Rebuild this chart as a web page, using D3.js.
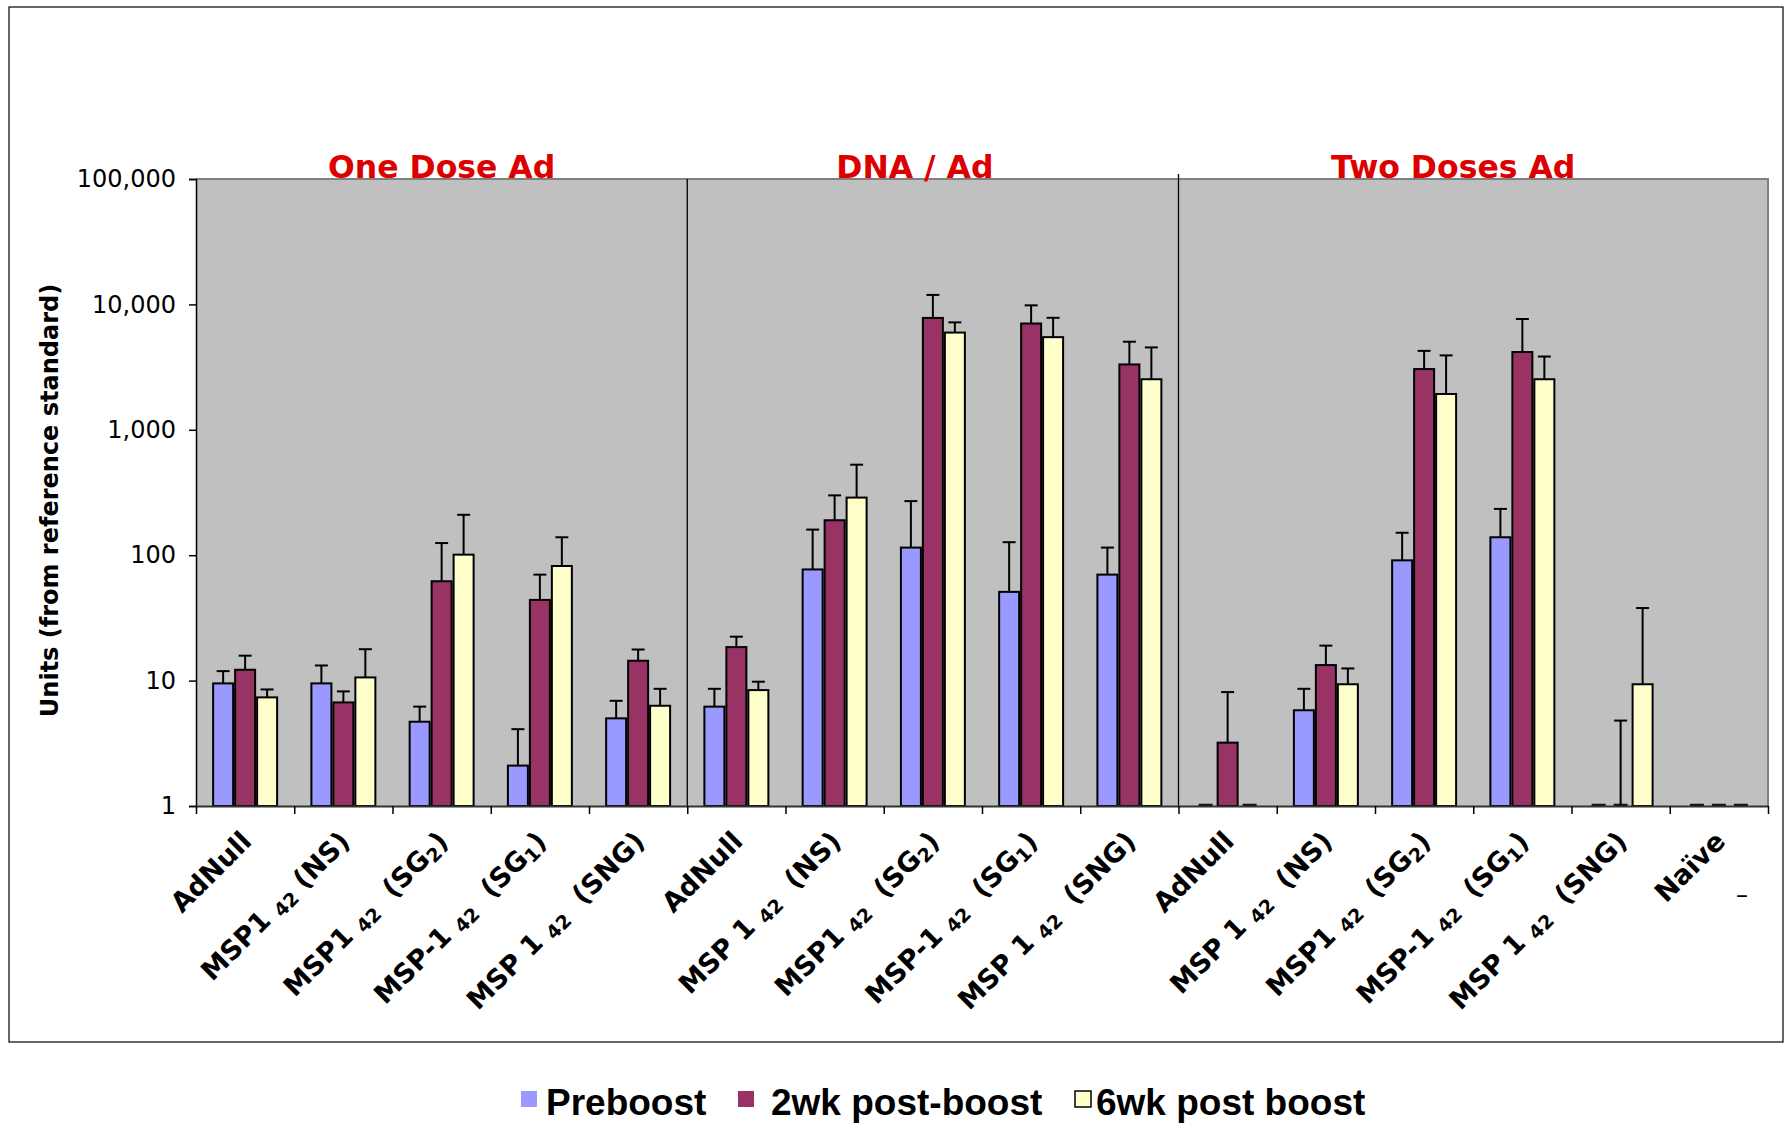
<!DOCTYPE html>
<html>
<head>
<meta charset="utf-8">
<script src="https://cdn.jsdelivr.net/npm/d3@7"></script>
<style>
  body { margin: 0; background: #fff; }
  svg { display: block; }
  text { white-space: pre; }
</style>
</head>
<body>
<svg id="chart"></svg>
<script>
// categories (underscore marks subscript digits)
const groupNames = ["One Dose Ad", "DNA / Ad", "Two Doses Ad"];
const groupSizes = [5, 5, 6];
const categories = [
  "AdNull", "MSP1 _42 (NS)", "MSP1 _42  (SG_2)", "MSP-1 _42  (SG_1)", "MSP 1 _42  (SNG)",
  "AdNull", "MSP 1 _42  (NS)", "MSP1 _42  (SG_2)", "MSP-1 _42  (SG_1)", "MSP 1 _42  (SNG)",
  "AdNull", "MSP 1 _42  (NS)", "MSP1 _42  (SG_2)", "MSP-1 _42  (SG_1)", "MSP 1 _42  (SNG)", "Naïve"
];
const seriesNames = ["Preboost", "2wk post-boost", "6wk post boost"];
const seriesColors = ["#9999ff", "#993366", "#ffffcc"];

// bar values (null = nothing detected, drawn as a dash on the axis)
const preboost = [9.5, 9.5, 4.7, 2.1, 5.0,   6.2, 77, 115, 51, 70,   null, 5.8, 91, 139, null, null];
const wk2      = [12.2, 6.7, 62, 44, 14.4,   18.5, 190, 7800, 7040, 3320,   3.2, 13.3, 3050, 4170, null, null];
const wk6      = [7.35, 10.6, 101, 82, 6.3,  8.4, 288, 5960, 5480, 2530,   null, 9.35, 1930, 2530, 9.35, null];
// upper ends of the error bars
const preboostErr = [11.9, 13.2, 6.2, 4.1, 6.9,   8.6, 160, 270, 127, 115,   null, 8.6, 151, 234, null, null];
const wk2Err      = [15.8, 8.2, 125, 70, 17.7,    22.4, 300, 11900, 9830, 5040,   8.1, 19, 4260, 7650, 4.8, null];
const wk6Err      = [8.5, 17.8, 210, 139, 8.6,    9.8, 527, 7190, 7820, 4540,   null, 12.5, 3920, 3840, 37.9, null];
const yTicks = [1, 10, 100, 1000, 10000, 100000];

const W = 1785, H = 1123;
const plot = { left: 196, right: 1768, top: 179, bottom: 806 };

const svg = d3.select("#chart").attr("width", W).attr("height", H);

// outer chart border
svg.append("rect")
  .attr("x", 9).attr("y", 7)
  .attr("width", 1774).attr("height", 1035)
  .attr("fill", "#fff").attr("stroke", "#000").attr("stroke-width", 1.2);

const x0 = d3.scaleBand()
  .domain(d3.range(categories.length))
  .range([plot.left, plot.right]);

const x1 = d3.scaleBand()
  .domain(d3.range(3))
  .range([0, x0.bandwidth()])
  .paddingInner(0.09)
  .paddingOuter(0.78);

const y = d3.scaleLog()
  .domain([1, 100000])
  .range([plot.bottom, plot.top]);

// plot background
svg.append("rect")
  .attr("x", plot.left).attr("y", plot.top)
  .attr("width", plot.right - plot.left).attr("height", plot.bottom - plot.top)
  .attr("fill", "#c0c0c0");
svg.append("path")
  .attr("d", `M${plot.left},${plot.top}H${plot.right}V${plot.bottom}`)
  .attr("fill", "none").attr("stroke", "#808080").attr("stroke-width", 2);

// group dividers
const groupStarts = groupSizes.map((s, i) => d3.sum(groupSizes.slice(0, i)));
groupStarts.slice(1).forEach(g => {
  svg.append("line")
    .attr("x1", x0(g)).attr("x2", x0(g))
    .attr("y1", plot.top - (g > 5 ? 5 : 0)).attr("y2", plot.bottom)
    .attr("stroke", "#000").attr("stroke-width", 1.3);
});

// bars
const values = [preboost, wk2, wk6];
const errs = [preboostErr, wk2Err, wk6Err];
const barData = [];
categories.forEach((c, ci) => {
  for (let s = 0; s < 3; s++) {
    barData.push({ ci, s, v: values[s][ci], e: errs[s][ci] });
  }
});

const bx = d => x0(d.ci) + x1(d.s);

svg.append("g").selectAll("rect")
  .data(barData.filter(d => d.v != null))
  .join("rect")
  .attr("x", bx)
  .attr("y", d => y(d.v))
  .attr("width", x1.bandwidth())
  .attr("height", d => y(1) - y(d.v))
  .attr("fill", d => seriesColors[d.s])
  .attr("stroke", "#000")
  .attr("stroke-width", 2);

// empty values: short dash on the axis
svg.append("g").selectAll("line")
  .data(barData.filter(d => d.v == null))
  .join("line")
  .attr("x1", d => bx(d) + 3).attr("x2", d => bx(d) + x1.bandwidth() - 3)
  .attr("y1", y(1) - 1).attr("y2", y(1) - 1)
  .attr("stroke", "#111").attr("stroke-width", 2.5);

// error bars
const eg = svg.append("g").attr("stroke", "#000").attr("stroke-width", 2);
barData.filter(d => d.e != null).forEach(d => {
  const cx = bx(d) + x1.bandwidth() / 2;
  eg.append("line")
    .attr("x1", cx).attr("x2", cx)
    .attr("y1", y(d.v == null ? 1 : d.v)).attr("y2", y(d.e));
  eg.append("line")
    .attr("x1", cx - 6.5).attr("x2", cx + 6.5)
    .attr("y1", y(d.e)).attr("y2", y(d.e));
});

// y axis
const yAxis = d3.axisLeft(y)
  .tickValues(yTicks)
  .tickFormat(d3.format(","))
  .tickSize(7)
  .tickPadding(13);
const yg = svg.append("g")
  .attr("transform", `translate(${plot.left},0)`)
  .call(yAxis);
yg.select(".domain").attr("stroke", "#000").attr("stroke-width", 1.5);
yg.selectAll(".tick line").attr("stroke", "#000").attr("stroke-width", 1.5);
yg.selectAll(".tick text")
  .attr("font-family", "DejaVu Sans, Verdana, sans-serif")
  .attr("font-size", 24)
  .attr("fill", "#000");

// x axis (ticks between categories)
const xb = d3.scaleLinear().domain([0, categories.length]).range([plot.left, plot.right]);
const xg = svg.append("g")
  .attr("transform", `translate(0,${plot.bottom})`)
  .call(d3.axisBottom(xb).tickValues(d3.range(categories.length + 1)).tickFormat("").tickSize(8).tickSizeOuter(0));
xg.select(".domain").attr("stroke", "#333").attr("stroke-width", 2);
xg.selectAll(".tick line").attr("stroke", "#000").attr("stroke-width", 1.5);

// category labels
const labels = svg.append("g")
  .attr("font-family", "DejaVu Sans, Verdana, sans-serif")
  .attr("font-weight", "bold")
  .attr("font-size", 27)
  .attr("fill", "#000");
categories.forEach((c, ci) => {
  const cx = x0(ci) + x0.bandwidth() / 2 + 8;
  const t = labels.append("text")
    .attr("text-anchor", "end")
    .attr("transform", `translate(${cx},843) rotate(-45)`);
  const parts = c.split(/(_\d+)/).filter(p => p.length);
  let shifted = false;
  parts.forEach(p => {
    if (p.startsWith("_")) {
      t.append("tspan").attr("font-size", 19).attr("dy", 4).text(p.slice(1));
      shifted = true;
    } else {
      t.append("tspan").attr("dy", shifted ? -4 : 0).text(p);
      shifted = false;
    }
  });
});
// stray dash under the last label
svg.append("text")
  .attr("x", 1742).attr("y", 903)
  .attr("text-anchor", "middle")
  .attr("font-family", "DejaVu Sans, sans-serif")
  .attr("font-size", 24)
  .text("–");

// y axis title
svg.append("text")
  .attr("transform", `translate(58,${(plot.top + plot.bottom) / 2 + 8}) rotate(-90)`)
  .attr("text-anchor", "middle")
  .attr("font-family", "DejaVu Sans, Verdana, sans-serif")
  .attr("font-weight", "bold")
  .attr("font-size", 24)
  .text("Units (from reference standard)");

// group titles
const titleNudge = [0, -18, -20];
groupNames.forEach((g, i) => {
  const a = groupStarts[i], b = a + groupSizes[i];
  svg.append("text")
    .attr("x", (x0(a) + xb(b)) / 2 + titleNudge[i])
    .attr("y", 178)
    .attr("text-anchor", "middle")
    .attr("font-family", "DejaVu Sans, Verdana, sans-serif")
    .attr("font-weight", "bold")
    .attr("font-size", 31.5)
    .attr("fill", "#dd0000")
    .text(g);
});

// legend
const legendX = [521, 738, 1075];
const legendTextX = [546, 771, 1096];
seriesNames.forEach((s, i) => {
  svg.append("rect")
    .attr("x", legendX[i]).attr("y", 1091)
    .attr("width", 16).attr("height", 16)
    .attr("fill", seriesColors[i])
    .attr("stroke", i === 2 ? "#000" : "none")
    .attr("stroke-width", 1.5);
  svg.append("text")
    .attr("x", legendTextX[i]).attr("y", 1115)
    .attr("font-family", "Liberation Sans, Arial, sans-serif")
    .attr("font-weight", "bold")
    .attr("font-size", 37)
    .text(s);
});
</script>
</body>
</html>
